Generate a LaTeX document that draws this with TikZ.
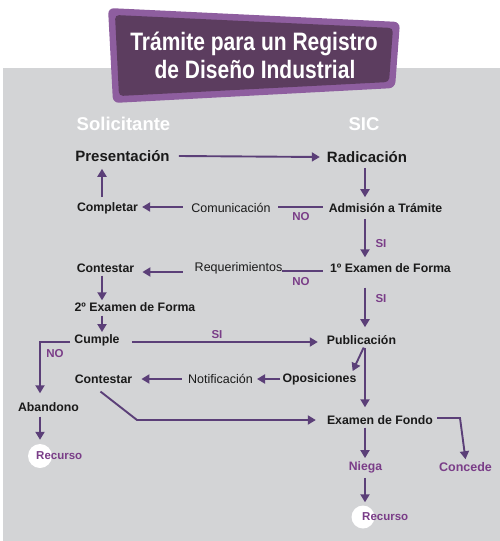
\documentclass[tikz,border=0pt]{standalone}
\usepackage{fontspec}
\setmainfont{Liberation Sans}
\usetikzlibrary{arrows.meta}
\definecolor{panelgrey}{HTML}{D3D4D6}
\definecolor{bannerdark}{HTML}{5C3D5F}
\definecolor{bannerrim}{HTML}{8E5E9F}
\definecolor{flowpurple}{HTML}{5B3F78}
\definecolor{tagpurple}{HTML}{7A3D88}
\definecolor{inkblack}{HTML}{1A1A1A}

\begin{document}
\begin{tikzpicture}[x=1pt,y=-1pt,
    every node/.style={inner sep=0pt,text=inkblack},
    bigstep/.style={font=\bfseries\fontsize{15}{18}\selectfont},
    stage/.style={font=\bfseries\fontsize{12.3}{14}\selectfont},
    msg/.style={font=\fontsize{12.5}{14}\selectfont},
    tag/.style={font=\bfseries\fontsize{11.5}{13}\selectfont,text=tagpurple},
    outcome/.style={font=\bfseries\fontsize{12.2}{14}\selectfont,text=tagpurple},
    column/.style={font=\bfseries\fontsize{18.5}{22}\selectfont,text=white},
    flow/.style={draw=flowpurple,line width=1.9pt,-{Triangle[width=9pt,length=8pt]}},
    link/.style={draw=flowpurple,line width=1.9pt}]
    \useasboundingbox (0,0) rectangle (500,541);
    \fill[panelgrey] (3,68) rectangle (500,541);
    % banner
    \fill[bannerrim,rounded corners=6pt] (108,8) -- (400,22) -- (395,88) -- (113,103) -- cycle;
    \fill[bannerdark,rounded corners=4pt] (115,15) -- (393,28) -- (389,82) -- (119,96) -- cycle;
    \node[font=\bfseries\fontsize{21}{24}\selectfont,text=white] (title1) at (254,44) {\scalebox{1}[1.2]{Trámite para un Registro}};
    \node[font=\bfseries\fontsize{21}{24}\selectfont,text=white] (title2) at (255,69) {\scalebox{1}[1.2]{de Diseño Industrial}};
    \node[column] (sol) at (123.5,124) {Solicitante};
    \node[column] (sic) at (364,124) {SIC};
    \coordinate (lane) at (102,0);
    \coordinate (spine) at (365,0);
    % steps
    \node[bigstep] (pres) at (122.5,156) {Presentación};
    \node[bigstep] (rad) at (367,157) {Radicación};
    \node[stage] (comp) at (107.5,208) {Completar};
    \node[msg] (com) at (231,208) {Comunicación};
    \node[stage] (adm) at (385.5,208) {Admisión a Trámite};
    \node[stage] (cont1) at (105.5,268) {Contestar};
    \node[msg] (req) at (238.5,268) {Requerimientos};
    \node[stage] (ex1) at (390.5,268) {1º Examen de Forma};
    \node[stage] (ex2) at (135,307) {2º Examen de Forma};
    \node[stage] (cumple) at (97,340) {Cumple};
    \node[stage] (pub) at (361.5,340) {Publicación};
    \node[stage] (cont2) at (103.5,379) {Contestar};
    \node[msg] (notif) at (220.5,379) {Notificación};
    \node[stage] (opos) at (319.5,379) {Oposiciones};
    \node[stage] (aband) at (48.5,407) {Abandono};
    \node[stage] (fondo) at (380,420) {Examen de Fondo};
    \node[circle,fill=white,minimum size=24pt] (rc1) at (40,456) {};
    \node[outcome,anchor=west,font=\bfseries\fontsize{11.5}{13}\selectfont] (rec1) at (36,456) {Recurso};
    \node[outcome] (niega) at (365.5,467) {Niega};
    \node[outcome,font=\bfseries\fontsize{12.5}{14}\selectfont] (concede) at (465.5,467) {Concede};
    \node[circle,fill=white,minimum size=23pt] (rc2) at (363,517) {};
    \node[outcome,anchor=west,font=\bfseries\fontsize{11.5}{13}\selectfont] (rec2) at (362,517) {Recurso};
    % labels
    \node[tag] (no1) at (301,217) {NO};
    \node[tag] (no2) at (301,282) {NO};
    \node[tag] (no3) at (55,354) {NO};
    \node[tag] (si1) at (381,244) {SI};
    \node[tag] (si2) at (381,299) {SI};
    \node[tag] (si3) at (217,335) {SI};
    \coordinate (knee) at (137,420);
    \coordinate (elbow) at (460,418);
    % connectors
    \draw[flow] ([xshift=9pt]pres.east) -- ([xshift=-7pt]rad.west);
    \draw[flow,shorten <=5pt,shorten >=6pt] (spine |- rad.south) -- (spine |- adm.north);
    \draw[link] ([xshift=7.5pt,yshift=1pt]com.east) -- ([xshift=-6pt,yshift=1pt]adm.west);
    \draw[flow] ([xshift=-8.5pt,yshift=1pt]com.west) -- ([xshift=4pt,yshift=1pt]comp.east);
    \draw[flow,shorten <=5pt,shorten >=7pt] (lane |- comp.north) -- (lane |- pres.south);
    \draw[flow,shorten <=6pt,shorten >=6pt] (spine |- adm.south) -- (spine |- ex1.north);
    \draw[link] ([yshift=-3pt]req.east) -- ([xshift=-7pt,yshift=-3pt]ex1.west);
    \draw[flow] ([xshift=-12pt,yshift=-4pt]req.west) -- ([xshift=8pt,yshift=-4pt]cont1.east);
    \draw[flow,shorten <=3pt,shorten >=2pt] (lane |- cont1.south) -- (lane |- ex2.north);
    \draw[flow,shorten <=4pt,shorten >=2pt] (lane |- ex2.south) -- (lane |- cumple.north);
    \draw[flow,shorten <=15pt,shorten >=8pt] (spine |- ex1.south) -- (spine |- pub.north);
    \draw[flow] ([xshift=12pt,yshift=-2pt]cumple.east) -- ([xshift=-9pt,yshift=-2pt]pub.west);
    \draw[flow,shorten >=9pt] ([xshift=-4pt,yshift=-2pt]cumple.west) -| (rc1.north |- aband.north);
    \draw[flow,shorten <=5pt,shorten >=4pt] (rc1.north |- aband.south) -- (rc1.north);
    \draw[flow,shorten <=3pt] (spine |- pub.south) -- ([xshift=-4pt,yshift=2pt]opos.north east);
    \draw[flow,shorten <=3pt,shorten >=8pt] (spine |- pub.south) -- (spine |- fondo.north);
    \draw[flow] ([xshift=-2pt]opos.west) -- ([xshift=4pt]notif.east);
    \draw[flow] ([xshift=-6pt]notif.west) -- ([xshift=9pt]cont2.east);
    \draw[flow] ([xshift=-3pt,yshift=-8pt]cont2.south) -- (knee) -- ([xshift=-11pt]fondo.west |- knee);
    \draw[flow] ([xshift=4pt,yshift=2pt]fondo.east) -- (elbow) -- ([yshift=3pt]concede.north);
    \draw[flow,shorten <=3pt,shorten >=3pt] (spine |- fondo.south) -- (spine |- niega.north);
    \draw[flow,shorten <=5pt,shorten >=3pt] (spine |- niega.south) -- (spine |- rc2.north);
\end{tikzpicture}
\end{document}
